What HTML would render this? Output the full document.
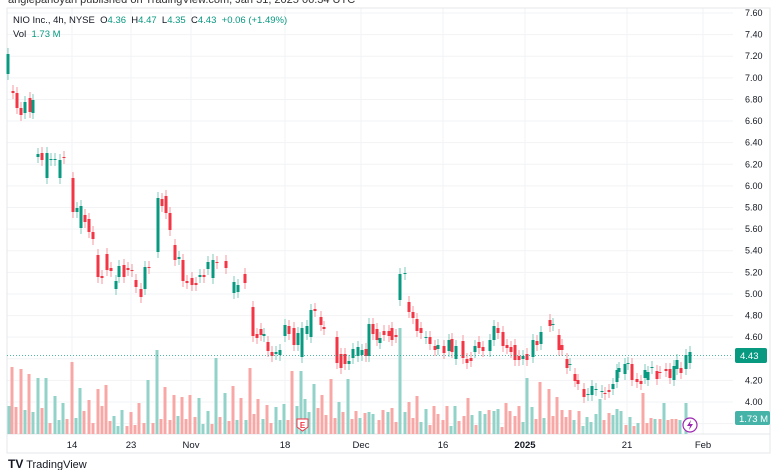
<!DOCTYPE html>
<html><head><meta charset="utf-8"><style>
body{margin:0;background:#fff;font-family:"Liberation Sans",sans-serif}
#w{position:relative;width:780px;height:470px;overflow:hidden}
.t{position:absolute;white-space:nowrap}
</style></head><body><div id="w">
<div class="t" style="left:8px;top:-6px;font-size:11px;color:#333">angiepanoyan published on TradingView.com, Jan 31, 2025 06:34 UTC</div>
<svg id="s" width="780" height="470" style="position:absolute;left:0;top:0"></svg>
<div class="t" style="left:13px;top:15px;font-size:9.5px;color:#131722">NIO Inc., 4h, NYSE&nbsp; O<span style="color:#089981">4.36</span>&nbsp; H<span style="color:#089981">4.47</span>&nbsp; L<span style="color:#089981">4.35</span>&nbsp; C<span style="color:#089981">4.43</span>&nbsp; <span style="color:#089981">+0.06 (+1.49%)</span></div>
<div class="t" style="left:13px;top:29px;font-size:9.5px;color:#131722">Vol&nbsp; <span style="color:#089981">1.73 M</span></div>
<div class="t" style="left:8px;top:457px;font-size:11px;color:#131722"><b style="font-size:12px">TV</b> TradingView</div>
</div>
<script>
const s=document.getElementById('s');let h='';
const Y=p=>13+(7.6-p)*108.06;
// grid
for(let p=7.6;p>3.7;p-=0.2){let y=Y(p);h+=`<line x1="7" x2="733" y1="${y}" y2="${y}" stroke="#f2f3f5"/>`;}
[72,131,191,285,361,443,525,627,703].forEach(x=>h+=`<line x1="${x}" x2="${x}" y1="8" y2="434" stroke="#f2f3f5"/>`);
h+=`<rect x="7" y="8" width="763" height="445" fill="none" stroke="#e6e7ea"/>`;
h+=`<line x1="7" x2="770" y1="434" y2="434" stroke="#e6e7ea"/>`;
// volume
const V=[[9,406,1],[12,367,0],[16,407,0],[21,369,0],[25,410,1],[29,374,0],[33,412,1],[38,378,1],[42,408,0],[46,378,1],[50,423,0],[55,396,1],[59,420,1],[63,403,1],[67,419,0],[72,362,0],[76,418,1],[80,388,1],[84,411,0],[89,400,0],[93,423,0],[98,389,0],[102,406,0],[106,385,0],[110,421,0],[114,416,1],[118,426,1],[122,410,1],[127,426,0],[131,412,0],[135,425,0],[139,403,0],[144,423,0],[148,380,1],[153,423,0],[157,350,1],[161,419,0],[165,387,0],[170,420,0],[174,395,0],[178,416,1],[182,397,0],[186,419,0],[190,395,0],[195,417,0],[199,398,1],[203,424,1],[208,411,1],[212,424,0],[216,358,1],[220,417,0],[225,393,1],[229,421,0],[233,386,0],[237,420,1],[241,398,0],[246,420,1],[250,368,0],[254,414,0],[258,399,0],[263,419,1],[267,405,0],[271,423,0],[276,407,1],[280,420,1],[284,404,1],[288,420,0],[292,371,0],[297,406,1],[301,371,1],[305,399,1],[309,412,1],[314,384,1],[318,408,0],[322,395,0],[326,415,0],[331,379,0],[335,418,0],[339,402,1],[343,412,0],[348,379,1],[352,419,0],[356,411,0],[360,418,1],[365,413,0],[369,412,1],[373,414,1],[379,420,0],[383,410,0],[388,412,1],[392,408,0],[396,422,0],[400,328,1],[405,412,1],[409,402,0],[413,418,0],[417,396,0],[421,422,1],[426,409,1],[430,425,0],[434,406,0],[438,414,0],[443,420,0],[447,406,0],[451,426,1],[455,406,1],[459,421,0],[464,416,0],[468,398,0],[472,415,1],[476,425,0],[480,411,1],[485,414,1],[489,410,0],[494,411,1],[498,409,1],[502,427,0],[506,403,0],[510,411,0],[515,416,0],[519,406,0],[523,422,1],[527,378,1],[532,407,1],[536,419,0],[540,382,0],[544,418,1],[549,389,0],[553,416,0],[557,397,0],[562,410,0],[566,417,0],[570,410,0],[574,420,1],[579,411,0],[583,426,1],[587,417,1],[591,422,1],[596,414,1],[600,399,1],[604,420,0],[609,413,0],[613,415,1],[617,409,1],[621,411,1],[626,425,0],[630,417,1],[634,426,0],[638,423,1],[643,393,0],[647,423,0],[651,418,0],[655,419,1],[660,419,0],[664,403,1],[668,420,0],[672,419,0],[676,419,0],[680,420,1],[686,403,1]];
V.forEach(v=>h+=`<rect x="${v[0]-1.5}" y="${v[1]}" width="3" height="${434-v[1]}" fill="${v[2]?'#92d2c8':'#f7a8a6'}"/>`);
// candles [x, yTop, yBot, green]
const C=[[8,54,74,1],[13,91,93,0],[17,93,108,0],[21,108,115,0],[25,102,113,1],[30,98,112,0],[33,100,113,1],[38,154,157,1],[42,153,160,0],[47,153,178,1],[51,159,160,1],[55,159,160,1],[60,160,178,1],[64,157,158,0],[73,178,212,0],[77,208,212,1],[81,206,228,1],[85,215,222,0],[89,219,232,0],[93,232,239,0],[98,255,277,0],[102,276,278,0],[107,254,270,0],[111,268,271,0],[116,281,289,1],[119,266,277,1],[124,265,277,0],[128,268,270,0],[132,270,271,0],[136,280,287,0],[141,289,297,0],[145,267,289,1],[149,267,268,0],[158,198,252,1],[162,199,206,0],[166,196,213,0],[170,213,230,0],[175,245,260,0],[179,257,259,1],[183,260,281,0],[187,281,283,0],[192,278,285,0],[196,283,285,0],[200,275,277,1],[204,275,277,0],[208,262,269,1],[213,260,278,1],[217,262,263,0],[226,261,268,0],[234,282,293,1],[238,285,292,1],[245,274,283,0],[253,307,336,0],[257,334,338,0],[261,329,335,0],[264,334,336,1],[268,342,351,0],[272,352,356,0],[276,352,354,1],[280,350,355,1],[285,325,336,1],[289,326,334,0],[294,328,345,0],[298,333,345,1],[302,328,357,1],[307,326,334,1],[311,310,337,1],[315,309,311,0],[321,317,325,0],[324,327,329,0],[337,337,363,0],[341,354,368,0],[345,354,364,0],[349,361,364,1],[353,349,358,1],[358,347,356,1],[362,350,355,1],[366,349,356,0],[369,324,356,1],[373,324,334,0],[377,329,340,0],[380,338,343,1],[384,331,335,0],[389,331,336,0],[392,328,340,0],[396,335,337,0],[400,274,300,1],[405,273,274,1],[409,302,312,0],[413,312,318,0],[417,319,331,0],[421,328,333,0],[426,337,338,1],[430,337,344,0],[435,346,350,0],[438,345,349,1],[444,346,353,0],[449,340,351,1],[452,339,352,0],[456,346,359,1],[463,341,358,0],[467,359,363,0],[471,358,361,0],[475,346,352,1],[479,342,348,0],[483,347,351,0],[490,340,351,1],[494,326,340,1],[498,328,333,0],[503,332,346,0],[507,345,348,0],[511,347,352,0],[515,345,360,0],[519,356,360,0],[523,356,359,1],[527,354,360,0],[533,340,357,1],[537,341,345,0],[541,332,344,1],[550,320,326,0],[553,324,325,1],[559,335,350,0],[562,345,350,0],[567,359,368,0],[570,364,365,1],[575,374,381,0],[578,380,384,0],[584,389,397,0],[588,394,395,1],[592,386,395,1],[596,389,390,1],[602,391,392,1],[605,393,394,0],[609,390,392,0],[613,384,389,1],[617,370,382,1],[619,368,372,1],[625,364,374,1],[628,363,364,1],[632,364,380,0],[637,379,382,0],[641,381,384,0],[645,370,378,1],[648,372,380,1],[652,367,368,1],[657,371,379,0],[660,372,373,0],[666,369,371,0],[670,369,378,0],[674,366,380,1],[677,360,369,1],[681,368,373,0],[686,355,369,1],[690,352,363,1]];
C.forEach(c=>{const col=c[3]?'#089981':'#f23645',wc=c[3]?'#7fcbbd':'#f59a9f';h+=`<line x1="${c[0]}" x2="${c[0]}" y1="${c[1]-6}" y2="${c[2]+6}" stroke="${wc}"/><rect x="${c[0]-1.5}" y="${c[1]}" width="3" height="${Math.max(1,c[2]-c[1])}" fill="${col}"/>`;});
// last price line
h+=`<line x1="7" x2="733" y1="355.5" y2="355.5" stroke="#089981" stroke-dasharray="1,2" opacity=".7"/>`;
// price labels
for(let i=0;i<=18;i++){let p=7.6-i*0.2;h+=`<text x="745" y="${Y(p)+3}" font-size="9" fill="#131722" font-family="Liberation Sans">${p.toFixed(2)}</text>`;}
h+=`<rect x="735" y="348" width="32" height="15" rx="2" fill="#089981"/><text x="740" y="359" font-size="9.5" fill="#fff" font-family="Liberation Sans">4.43</text>`;
h+=`<rect x="735" y="411" width="35" height="14" rx="2" fill="#26a69a" opacity=".85"/><text x="739" y="422" font-size="9.5" fill="#fff" font-family="Liberation Sans">1.73 M</text>`;
// time labels
[[72,'14'],[131,'23'],[191,'Nov'],[285,'18'],[361,'Dec'],[443,'16'],[525,'2025'],[627,'21'],[703,'Feb']].forEach(t=>h+=`<text x="${t[0]}" y="448" text-anchor="middle" font-size="9.5" fill="#131722" font-family="Liberation Sans" ${t[1]=='2025'?'font-weight="bold"':''}>${t[1]}</text>`);
// markers
h+=`<path d="M297 419h11v8l-5.5 4l-5.5-4z" fill="#fff" stroke="#f23645"/><text x="302.5" y="428" text-anchor="middle" font-size="8" fill="#f23645" font-family="Liberation Sans" font-weight="bold">E</text>`;
h+=`<circle cx="690" cy="425" r="7" fill="#fff" stroke="#9c27b0" stroke-width="1.2"/><path d="M691 420l-4 6h3l-1 4l4-6h-3z" fill="#9c27b0"/>`;
s.innerHTML=h;
</script></body></html>
